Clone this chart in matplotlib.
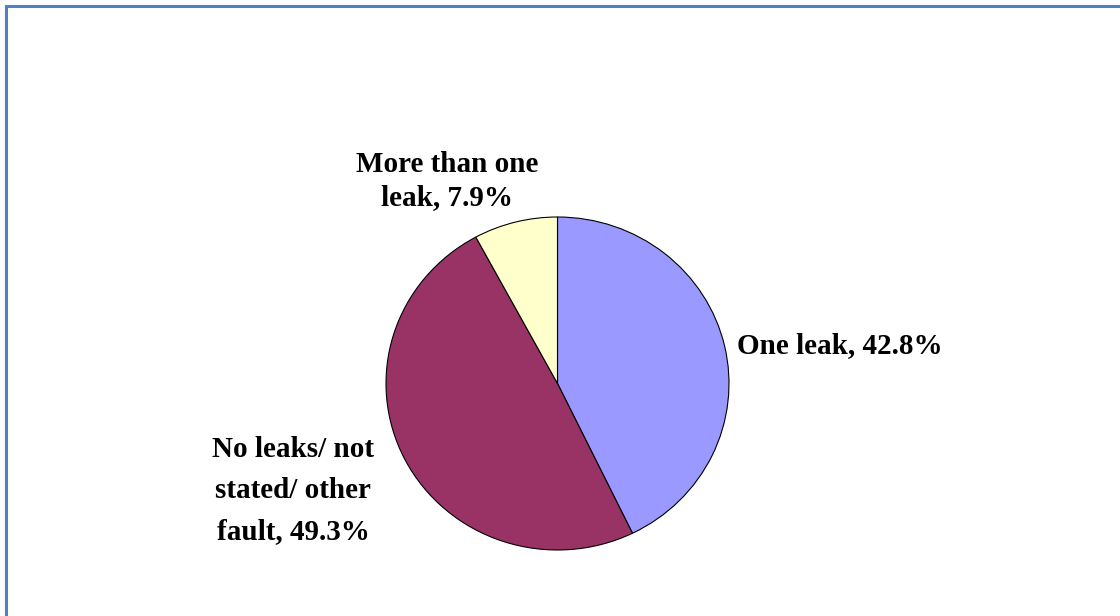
import matplotlib.pyplot as plt
from matplotlib.patches import Rectangle

# data
categories = ['One leak', 'No leaks/ not\nstated/ other\nfault', 'More than one\nleak']
shares = [42.8, 49.3, 7.9]
colors = ['#9999FF', '#993366', '#FFFFCC']

W, H = 1120, 616
fig = plt.figure(figsize=(W / 100, H / 100), dpi=100)

# pie area (pixels: left, top, right, bottom)
left, top, right, bottom = 386, 217, 729, 550
ax = fig.add_axes([left / W, 1 - bottom / H, (right - left) / W, (bottom - top) / H])
ax.pie(shares, colors=colors, startangle=90, counterclock=False,
       wedgeprops=dict(edgecolor='black', linewidth=0.8))
ax.set_aspect('auto')
ax.set_xlim(-1, 1)
ax.set_ylim(-1, 1)
ax.axis('off')

# data labels: anchor x, baseline of last line, horizontal alignment, line pitch (pixels)
label_pos = [(737, 353, 'left', 40), (293, 539, 'center', 41), (447, 205, 'center', 33)]
for cat, val, (x, y, ha, pitch) in zip(categories, shares, label_pos):
    lines = f'{cat}, {val}%'.split('\n')
    n = len(lines)
    for i, line in enumerate(lines):
        yy = y - (n - 1 - i) * pitch
        fig.text(x / W, 1 - yy / H, line, ha=ha, va='baseline',
                 fontsize=21, fontweight='bold', family='Liberation Serif')

# chart area border (only top and left edges fall inside the image)
fig.patches.append(Rectangle((6 / W, -0.1), 1.2, 1 - 6 / H + 0.1, transform=fig.transFigure,
                             fill=False, edgecolor='#4F81BD', linewidth=2.2))

fig.savefig('out.png', dpi=100)
